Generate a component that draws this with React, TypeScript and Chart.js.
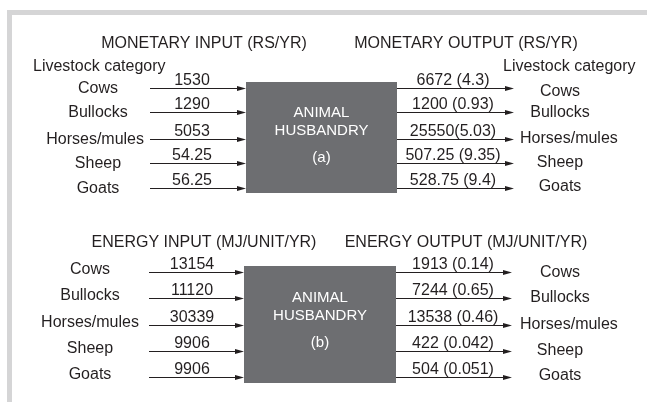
import React, { useEffect, useRef } from "react";
import { Chart, registerables } from "chart.js";

Chart.register(...registerables);

// ---- data ----
const categories = ["Cows", "Bullocks", "Horses/mules", "Sheep", "Goats"];
const monetaryInput = ["1530", "1290", "5053", "54.25", "56.25"];
const monetaryOutput = ["6672 (4.3)", "1200 (0.93)", "25550(5.03)", "507.25 (9.35)", "528.75 (9.4)"];
const energyInput = ["13154", "11120", "30339", "9906", "9906"];
const energyOutput = ["1913 (0.14)", "7244 (0.65)", "13538 (0.46)", "422 (0.042)", "504 (0.051)"];
const inputTitles = ["MONETARY INPUT (RS/YR)", "ENERGY INPUT (MJ/UNIT/YR)"];
const outputTitles = ["MONETARY OUTPUT (RS/YR)", "ENERGY OUTPUT (MJ/UNIT/YR)"];
const boxLabels = ["(a)", "(b)"];
const boxTitle = ["ANIMAL", "HUSBANDRY"];
const categoryHeader = "Livestock category";

// ---- layout (pixel-space values on the hidden linear scales) ----
const W = 647;
const H = 402;
const FONT = '"Liberation Sans", Arial, Helvetica, sans-serif';
const INK = "#231f20";
const BOX = "#6d6e71";
const FRAME = "#d5d5d6";

const panels = [
  {
    inputs: monetaryInput,
    outputs: monetaryOutput,
    rows: [88, 112, 139, 163, 188],
    box: { x0: 246, x1: 397, y0: 82, y1: 193 },
    inStart: 150,
    outEnd: 514,
    inValX: 192,
    outValX: 453,
    inLabelX: 98,
    inLabelMaxRight: 144,
    inLabelDy: 1,
    outLabelX: 560,
    outLabelDy: [4, 1, 0, 0, -1],
    titleY: 44,
    inTitleX: 204,
    outTitleX: 466,
    header: true,
    headerY: 67,
    textDy: [31, 49, 76],
  },
  {
    inputs: energyInput,
    outputs: energyOutput,
    rows: [272, 298, 325, 351, 377],
    box: { x0: 244, x1: 396, y0: 266, y1: 383 },
    inStart: 149,
    outEnd: 512,
    inValX: 192,
    outValX: 453,
    inLabelX: 90,
    inLabelMaxRight: 141,
    inLabelDy: -2,
    outLabelX: 560,
    outLabelDy: [1, 0, 0, 0, -1],
    titleY: 243,
    inTitleX: 204,
    outTitleX: 466,
    header: false,
    headerY: 0,
    textDy: [32, 50, 77],
  },
];

const diagramPlugin = {
  id: "diagram",
  afterDraw(chart: any) {
    const ctx = chart.ctx as CanvasRenderingContext2D;
    const xs = chart.scales.x;
    const ys = chart.scales.y;
    const X = (v: number) => xs.getPixelForValue(v);
    const Y = (v: number) => ys.getPixelForValue(v);
    ctx.save();

    // frame
    ctx.fillStyle = FRAME;
    ctx.fillRect(X(7), Y(10), X(W) - X(7), Y(15) - Y(10));
    ctx.fillRect(X(7), Y(10), X(12) - X(7), Y(H) - Y(10));

    const font = (px: number) => `${px}px ${FONT}`;

    const arrow = (x0: number, x1: number, y: number) => {
      const py = Math.round(Y(y)) + 0.5;
      ctx.strokeStyle = INK;
      ctx.lineWidth = 1;
      ctx.beginPath();
      ctx.moveTo(X(x0), py);
      ctx.lineTo(X(x1) - 6, py);
      ctx.stroke();
      ctx.fillStyle = INK;
      ctx.beginPath();
      ctx.moveTo(X(x1), py);
      ctx.lineTo(X(x1) - 9, py - 2.5);
      ctx.lineTo(X(x1) - 9, py + 2.5);
      ctx.closePath();
      ctx.fill();
    };

    panels.forEach((p, pi) => {
      // titles
      ctx.fillStyle = INK;
      ctx.font = font(16);
      ctx.textAlign = "center";
      ctx.textBaseline = "middle";
      ctx.fillText(inputTitles[pi], X(p.inTitleX), Y(p.titleY));
      ctx.fillText(outputTitles[pi], X(p.outTitleX), Y(p.titleY));

      if (p.header) {
        ctx.textAlign = "left";
        ctx.fillText(categoryHeader, X(33), Y(p.headerY));
        ctx.fillText(categoryHeader, X(503), Y(p.headerY));
      }

      // box
      ctx.fillStyle = BOX;
      ctx.fillRect(X(p.box.x0), Y(p.box.y0), X(p.box.x1) - X(p.box.x0), Y(p.box.y1) - Y(p.box.y0));
      ctx.fillStyle = "#ffffff";
      ctx.textAlign = "center";
      ctx.textBaseline = "middle";
      ctx.font = font(15);
      const cx = X((p.box.x0 + p.box.x1) / 2);
      ctx.fillText(boxTitle[0], cx, Y(p.box.y0 + p.textDy[0]));
      ctx.fillText(boxTitle[1], cx, Y(p.box.y0 + p.textDy[1]));
      ctx.fillText(boxLabels[pi], cx, Y(p.box.y0 + p.textDy[2]));

      // rows
      categories.forEach((cat, i) => {
        const y = p.rows[i];
        arrow(p.inStart, p.box.x0, y);
        arrow(p.box.x1, p.outEnd, y);

        ctx.fillStyle = INK;
        ctx.font = font(16);
        ctx.textBaseline = "alphabetic";
        ctx.textAlign = "center";
        ctx.fillText(p.inputs[i], X(p.inValX), Y(y - 3));
        ctx.fillText(p.outputs[i], X(p.outValX), Y(y - 3));

        ctx.textBaseline = "middle";
        const w = ctx.measureText(cat).width;
        ctx.textAlign = "left";
        const inLeft = Math.min(X(p.inLabelX) - w / 2, X(p.inLabelMaxRight) - w);
        ctx.fillText(cat, inLeft, Y(y + p.inLabelDy));
        const outLeft = Math.max(X(p.outLabelX) - w / 2, X(520));
        ctx.fillText(cat, outLeft, Y(y + p.outLabelDy[i]));
      });
    });

    ctx.restore();
  },
};

export default function App() {
  const ref = useRef<HTMLCanvasElement | null>(null);

  useEffect(() => {
    document.body.style.margin = "0";
    const canvas = ref.current;
    if (!canvas) return;
    const chart = new Chart(canvas, {
      type: "scatter",
      data: { datasets: [{ data: [], showLine: false }] },
      options: {
        animation: false,
        responsive: false,
        devicePixelRatio: 1,
        layout: { padding: 0 },
        plugins: { legend: { display: false }, tooltip: { enabled: false } },
        scales: {
          x: { type: "linear", min: 0, max: W, display: false },
          y: { type: "linear", min: 0, max: H, reverse: true, display: false },
        },
      },
      plugins: [diagramPlugin],
    });
    return () => chart.destroy();
  }, []);

  return (
    <div style={{ width: W, height: H, background: "#ffffff" }}>
      <canvas ref={ref} width={W} height={H} style={{ display: "block", width: W, height: H }} />
    </div>
  );
}
